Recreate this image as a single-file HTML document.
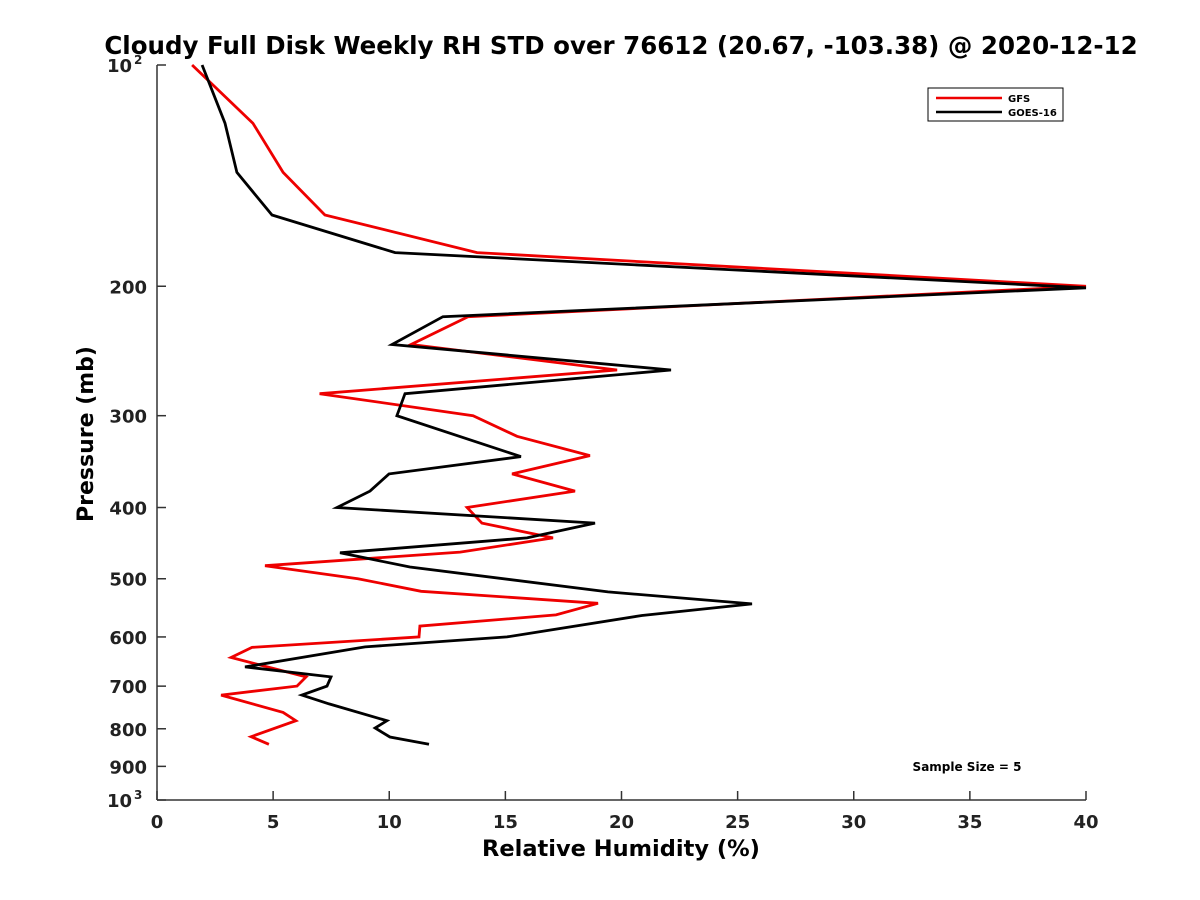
<!DOCTYPE html>
<html><head><meta charset="utf-8"><style>
body{margin:0;background:#fff;}
svg{display:block;font-family:"DejaVu Sans","Liberation Sans",sans-serif;font-weight:bold;}
</style></head><body>
<svg id="chart" width="1200" height="900" viewBox="0 0 1200 900">
<rect x="0" y="0" width="1200" height="900" fill="#fff"/>
<text x="621" y="54" font-size="24.5" text-anchor="middle">Cloudy Full Disk Weekly RH STD over 76612 (20.67, -103.38) @ 2020-12-12</text>
<g id="axes"></g>
<g id="series"></g>
<g>
<rect x="928" y="88" width="135" height="33" fill="#fff" stroke="#000" stroke-width="1"/>
<line x1="936" y1="98" x2="1002" y2="98" stroke="#ee0000" stroke-width="2.5"/>
<text x="1008" y="102" font-size="10">GFS</text>
<line x1="936" y1="112" x2="1002" y2="112" stroke="#000" stroke-width="2.5"/>
<text x="1008" y="116" font-size="10">GOES-16</text>
</g>
<text x="967" y="771" font-size="12" text-anchor="middle">Sample Size = 5</text>
<text x="621" y="856" font-size="22.5" text-anchor="middle">Relative Humidity (%)</text>
<text transform="translate(93,434) rotate(-90)" font-size="22" text-anchor="middle">Pressure (mb)</text>
</svg>
<script>
const xTicks=[0,5,10,15,20,25,30,35,40];
const yTicks=[200,300,400,500,600,700,800,900];
const gfsP=[100,120,140,160,180,200,220,240,260,280,300,320,340,360,380,400,420,440,460,480,500,520,540,560,580,600,620,640,680,700,720,760,780,820,840];
const gfsV=[1.51,4.13,5.43,7.23,13.78,40,13.39,10.94,19.81,7.0,13.61,15.5,18.64,15.29,18.0,13.35,13.99,17.05,13.05,4.65,8.65,11.37,18.99,17.18,11.32,11.28,4.09,3.19,6.42,6.03,2.76,5.43,5.98,4.05,4.82];
const goesP=[100,120,140,160,180,201,220,240,260,280,300,341,360,380,400,420,440,461,482,521,541,561,600,619,659,680,700,720,740,780,798,821,840];
const goesV=[1.94,2.93,3.44,4.95,10.25,40,12.31,10.12,22.13,10.68,10.33,15.67,9.99,9.17,7.75,18.86,15.93,7.88,10.89,19.42,25.62,20.88,15.07,8.96,3.79,7.49,7.32,6.24,7.41,9.9,9.39,10.03,11.71];
const X0=157,X1=1086,Y0=65,Y1=800;
const xs=v=>X0+(v/40)*(X1-X0);
const ys=p=>Y0+(Math.log10(p)-2)*(Y1-Y0);
const NS="http://www.w3.org/2000/svg";
const axes=document.getElementById('axes'),series=document.getElementById('series');
function mk(tag,attrs,parent){const e=document.createElementNS(NS,tag);for(const k in attrs)e.setAttribute(k,attrs[k]);parent.appendChild(e);return e;}
let e;
e=mk('line',{x1:X0,y1:Y0,x2:X0,y2:Y1,stroke:'#333','stroke-width':1.5},axes);


e=mk('line',{x1:X0,y1:Y1,x2:X1,y2:Y1,stroke:'#333','stroke-width':1.5},axes);


xTicks.forEach(v=>{
 e=mk('line',{x1:xs(v),y1:Y1,x2:xs(v),y2:Y1-9,stroke:'#333','stroke-width':1.5},axes);
 
 
 e=mk('text',{x:xs(v),y:828,'font-size':18,'text-anchor':'middle',fill:'#222'},axes);
 e.textContent=String(v);
 
 
});
[100].concat(yTicks).concat([1000]).forEach(p=>{
 e=mk('line',{x1:X0,y1:ys(p),x2:X0+9,y2:ys(p),stroke:'#333','stroke-width':1.5},axes);
 
 
});
yTicks.forEach(p=>{
 e=mk('text',{x:147,y:ys(p)+7,'font-size':18,'text-anchor':'end',fill:'#222'},axes);
 e.textContent=String(p);
 
 
});
[[100,'2'],[1000,'3']].forEach(([p,ex])=>{
 e=mk('text',{x:132,y:ys(p)+7,'font-size':18,'text-anchor':'end',fill:'#222'},axes);
 e.textContent='10';
 
 
 e=mk('text',{x:134,y:ys(p)-1,'font-size':12,fill:'#222'},axes);
 e.textContent=ex;
 
 
});
function line(P,V,color,name){
 const pts=P.map((p,i)=>xs(V[i]).toFixed(1)+','+ys(p).toFixed(1)).join(' ');
 const l=mk('polyline',{points:pts,fill:'none',stroke:color,'stroke-width':2.8,'stroke-linejoin':'miter'},series);
 
 
}
line(gfsP,gfsV,'#ee0000','gfs-line');
line(goesP,goesV,'#000','goes16-line');
</script>
</body></html>
